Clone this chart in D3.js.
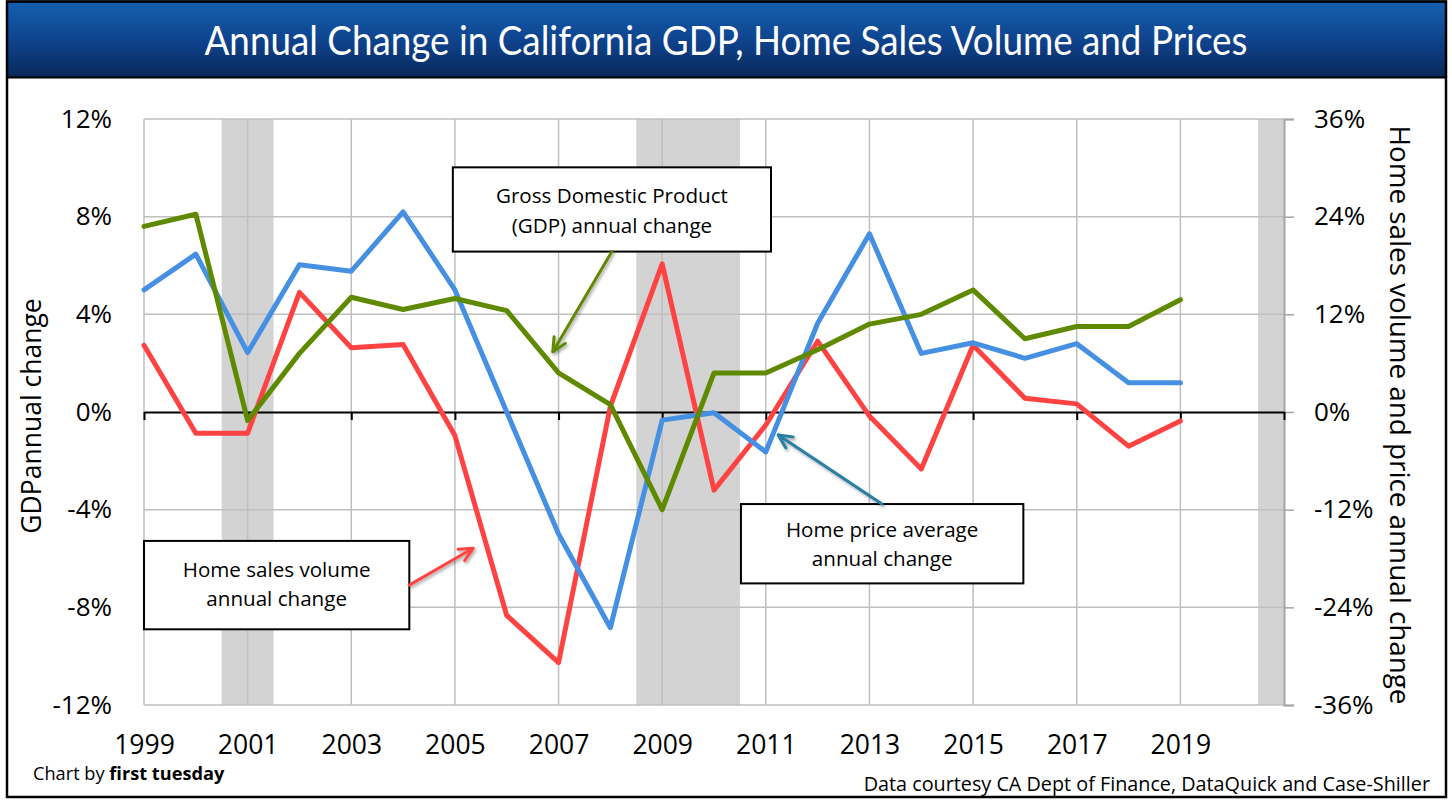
<!DOCTYPE html>
<html><head><meta charset="utf-8">
<script src="https://cdn.jsdelivr.net/npm/d3@7"></script>
<style>body{margin:0;background:#fff;} svg{display:block;font-family:'Open Sans',Lato,sans-serif;}</style>
</head><body>
<svg id="chart" width="1452" height="802"></svg>
<script>
// ---- data ----
const years = [1999,2000,2001,2002,2003,2004,2005,2006,2007,2008,2009,2010,2011,2012,2013,2014,2015,2016,2017,2018,2019];
const gdpChange = [7.6,8.1,-0.35,2.4,4.7,4.2,4.65,4.15,1.6,0.3,-4.0,1.6,1.6,2.55,3.6,4.0,5.0,3.0,3.5,3.5,4.6];
const homePriceChange = [15.0,19.4,7.3,18.1,17.3,24.6,15.0,0.0,-15.0,-26.5,-1.0,-0.1,-4.9,10.9,21.9,7.2,8.5,6.6,8.4,3.6,3.6];
const salesVolumeChange = [8.2,-2.6,-2.6,14.7,7.9,8.3,-2.9,-25.0,-30.8,0.7,18.2,-9.6,-1.6,8.7,-0.5,-7.0,8.2,1.7,1.0,-4.2,-1.1];
const leftTicks = [-12,-8,-4,0,4,8,12];
const rightTicks = [-36,-24,-12,0,12,24,36];
const xTickYears = [1999,2001,2003,2005,2007,2009,2011,2013,2015,2017,2019];
const recessions = [[2000.5,2001.5],[2008.5,2010.5],[2020.5,2021]];
const titleText = "Annual Change in California GDP, Home Sales Volume and Prices";
const leftTitle = "GDPannual change";
const rightTitle = "Home sales volume and price annual change";

const svg = d3.select("#chart");
const W = 1452, H = 802;
const x = d3.scaleLinear().domain([1999,2021]).range([144,1284]);
const yL = d3.scaleLinear().domain([-12,12]).range([705,119]);
const yR = d3.scaleLinear().domain([-36,36]).range([705,119]);
const FONT = "'Open Sans',Lato,sans-serif";

const defs = svg.append("defs");
const grad = defs.append("linearGradient").attr("id","tg").attr("x1",0).attr("y1",0).attr("x2",0).attr("y2",1);
grad.append("stop").attr("offset","0%").attr("stop-color","#1460b0");
grad.append("stop").attr("offset","55%").attr("stop-color","#0e418a");
grad.append("stop").attr("offset","100%").attr("stop-color","#0a2858");
const sh = defs.append("filter").attr("id","sh").attr("x","-20%").attr("y","-20%").attr("width","140%").attr("height","140%");
sh.append("feDropShadow").attr("dx",1.5).attr("dy",2).attr("stdDeviation",1.5).attr("flood-color","#000").attr("flood-opacity",0.35);

// background and frame
svg.append("rect").attr("x",0).attr("y",0).attr("width",W).attr("height",H).attr("fill","#fff");
svg.append("rect").attr("x",7).attr("y",1.5).attr("width",1439).attr("height",76).attr("fill","url(#tg)").attr("stroke","#000").attr("stroke-width",2);
svg.append("text").attr("x",726).attr("y",55).attr("text-anchor","middle").attr("fill","#fff")
  .attr("font-family","Lato").attr("font-size",40).attr("textLength",1043).attr("lengthAdjust","spacingAndGlyphs").text(titleText);
svg.append("rect").attr("x",7).attr("y",1.5).attr("width",1439).attr("height",795.5).attr("fill","none").attr("stroke","#000").attr("stroke-width",2.5);

// recession shading
svg.append("g").selectAll("rect").data(recessions).join("rect")
  .attr("x",d=>x(d[0])).attr("width",d=>x(d[1])-x(d[0]))
  .attr("y",yL(12)).attr("height",yL(-12)-yL(12)).attr("fill","#d3d3d3");

// gridlines
const grid = svg.append("g").attr("stroke","#bfbfbf").attr("stroke-width",1.5);
grid.selectAll("line.h").data(leftTicks.filter(d=>d!==0)).join("line").attr("class","h")
  .attr("x1",x(1999)).attr("x2",x(2021)).attr("y1",d=>yL(d)).attr("y2",d=>yL(d));
grid.selectAll("line.v").data(xTickYears).join("line").attr("class","v")
  .attr("x1",d=>x(d)).attr("x2",d=>x(d)).attr("y1",yL(12)).attr("y2",yL(-12));

// left axis labels
const axL = svg.append("g").attr("transform",`translate(${x(1999)},0)`)
  .call(d3.axisLeft(yL).tickValues(leftTicks).tickFormat(d=>d+"%").tickSize(0).tickPadding(32));
axL.select(".domain").remove();
axL.selectAll("text").attr("font-size",26).attr("font-family",FONT).attr("fill","#000");

// right axis
const axR = svg.append("g").attr("transform",`translate(${x(2021)},0)`)
  .call(d3.axisRight(yR).tickValues(rightTicks).tickFormat(d=>d+"%").tickSize(10).tickPadding(20));
axR.select(".domain").attr("stroke","#a6a6a6").attr("stroke-width",2);
axR.selectAll(".tick line").attr("stroke","#a6a6a6").attr("stroke-width",1.5);
axR.selectAll("text").attr("font-size",26).attr("font-family",FONT).attr("fill","#000");

// bottom year labels
const axB = svg.append("g").attr("transform",`translate(0,${yL(-12)})`)
  .call(d3.axisBottom(x).tickValues(xTickYears).tickFormat(d3.format("d")).tickSize(0).tickPadding(30));
axB.select(".domain").remove();
axB.selectAll("text").attr("font-size",26.5).attr("font-family",FONT).attr("fill","#000");

// zero line with ticks
const z = svg.append("g").attr("transform",`translate(0,${yL(0)})`)
  .call(d3.axisBottom(x).tickValues(xTickYears.concat([2021])).tickFormat("").tickSize(8).tickSizeOuter(0));
z.select(".domain").attr("stroke","#000").attr("stroke-width",2);
z.selectAll(".tick line").attr("stroke","#000").attr("stroke-width",2);

// axis titles
svg.append("text").attr("transform",`translate(41,${yL(0)+4}) rotate(-90)`).attr("text-anchor","middle")
  .attr("font-size",26.5).attr("fill","#000").text(leftTitle);
svg.append("text").attr("transform",`translate(1390,${yL(0)+3}) rotate(90)`).attr("text-anchor","middle")
  .attr("font-size",27.8).attr("fill","#000").text(rightTitle);

// series lines
const pts = (vals) => years.map((yr,i)=>({year:yr,v:vals[i]}));
const lineL = d3.line().x(d=>x(d.year)).y(d=>yL(d.v));
const lineR = d3.line().x(d=>x(d.year)).y(d=>yR(d.v));
const series = [
  {vals:salesVolumeChange, gen:lineR, color:"#ff4343"},
  {vals:homePriceChange, gen:lineR, color:"#4590e2"},
  {vals:gdpChange, gen:lineL, color:"#5f8a00"}
];
svg.append("g").selectAll("path").data(series).join("path")
  .attr("d",d=>d.gen(pts(d.vals))).attr("fill","none").attr("stroke",d=>d.color)
  .attr("stroke-width",5).attr("stroke-linejoin","round").attr("stroke-linecap","round");

// annotations (in data coordinates: years / left-axis %)
const notes = [
  {box:[2004.96,2011.10,10.02,6.57], lines:["Gross Domestic Product","(GDP) annual change"], base:[202.7,232.7],
   from:[2008.03,6.57], to:[2006.89,2.47], color:"#5f8a00"},
  {box:[2010.52,2015.97,-3.77,-7.02], lines:["Home price average","annual change"], base:[536.7,565.7],
   from:[2013.24,-3.77], to:[2011.24,-0.94], color:"#2c7ea3"},
  {box:[1999.0,2004.12,-5.28,-8.90], lines:["Home sales volume","annual change"], base:[577.3,606],
   from:[2004.12,-7.09], to:[2005.35,-5.58], color:"#ff4343"}
];
const ag = svg.append("g");
notes.forEach(n=>{
  const x0=x(n.box[0]), x1=x(n.box[1]), y0=yL(n.box[2]), y1=yL(n.box[3]);
  ag.append("rect").attr("x",x0).attr("y",y0).attr("width",x1-x0).attr("height",y1-y0)
    .attr("fill","#fff").attr("stroke","#000").attr("stroke-width",2);
  n.lines.forEach((t,i)=>{
    ag.append("text").attr("x",(x0+x1)/2).attr("y",n.base[i]).attr("text-anchor","middle")
      .attr("font-size",20.6).attr("fill","#000").text(t);
  });
  const fx=x(n.from[0]), fy=yL(n.from[1]), tx=x(n.to[0]), ty=yL(n.to[1]);
  const ang=Math.atan2(ty-fy,tx-fx), L=15, spread=0.45;
  const g2=ag.append("g").attr("filter","url(#sh)").attr("stroke",n.color).attr("stroke-width",3).attr("fill","none")
    .attr("stroke-linecap","round").attr("stroke-linejoin","round");
  g2.append("line").attr("x1",fx).attr("y1",fy).attr("x2",tx).attr("y2",ty);
  g2.append("path").attr("d",`M${tx-L*Math.cos(ang-spread)},${ty-L*Math.sin(ang-spread)} L${tx},${ty} L${tx-L*Math.cos(ang+spread)},${ty-L*Math.sin(ang+spread)}`);
});

// footer texts
svg.append("text").attr("x",33).attr("y",780).attr("font-size",18.2).attr("fill","#000")
  .html('Chart by <tspan font-weight="bold">first tuesday</tspan>');
svg.append("text").attr("x",1430).attr("y",791).attr("text-anchor","end").attr("font-size",19.8).attr("fill","#000")
  .text("Data courtesy CA Dept of Finance, DataQuick and Case-Shiller");
</script>
</body></html>
